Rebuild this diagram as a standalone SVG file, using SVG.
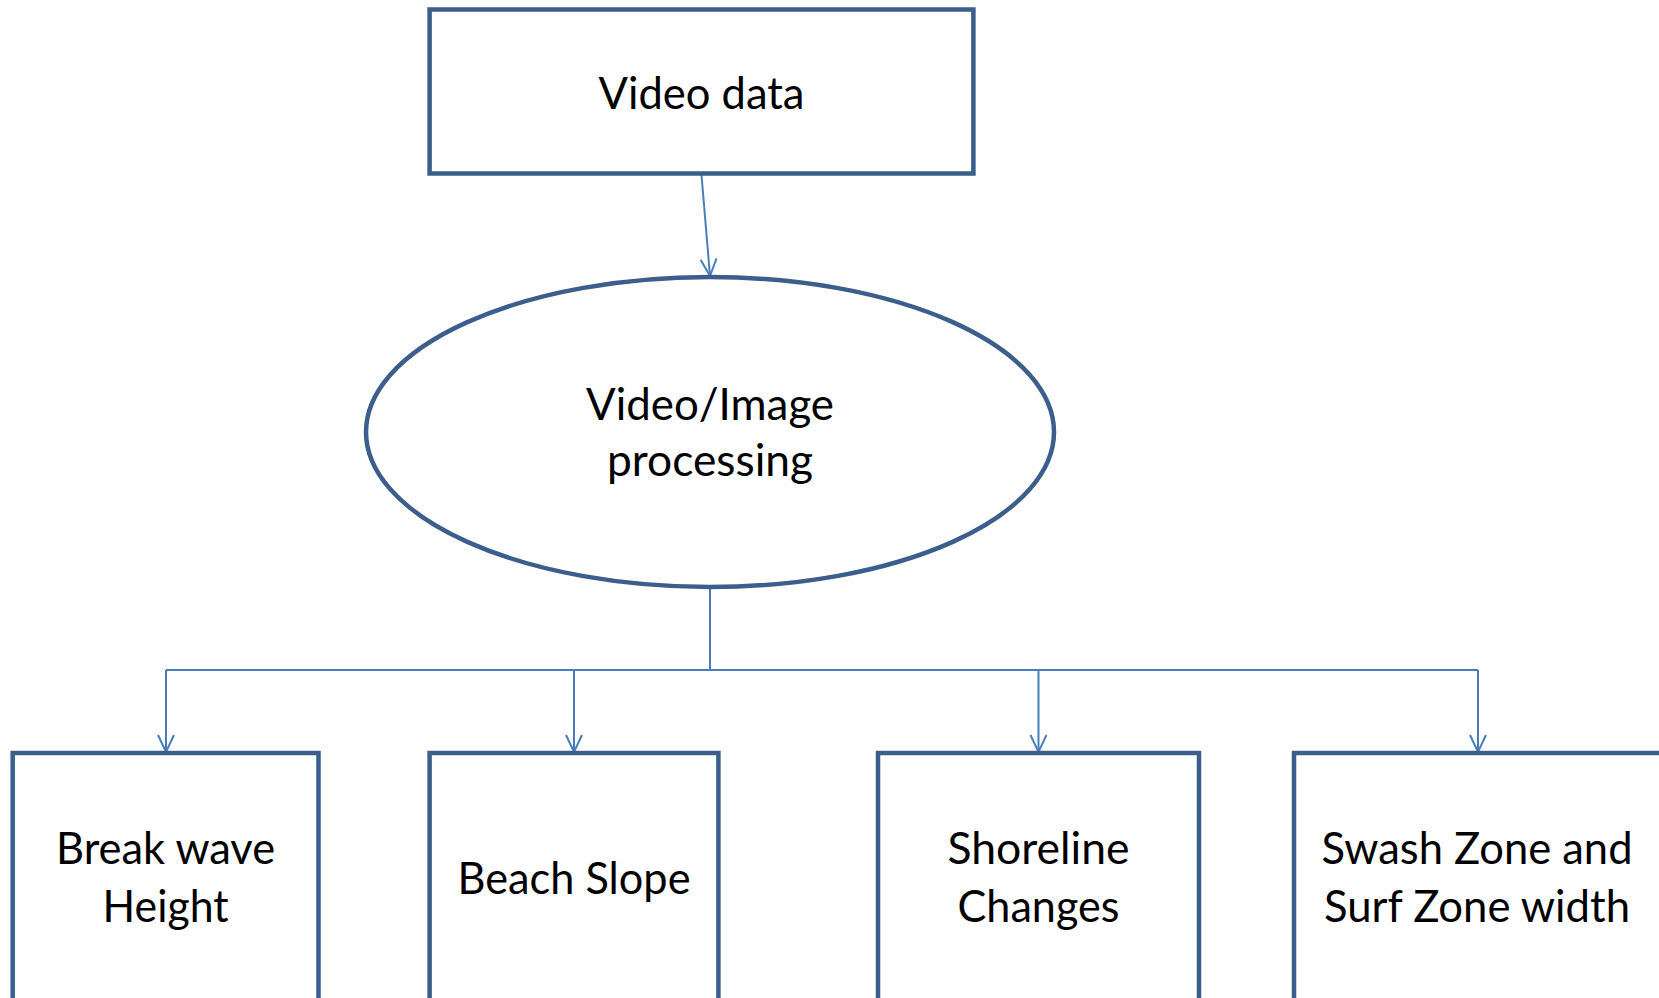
<svg xmlns="http://www.w3.org/2000/svg" width="1659" height="998" viewBox="0 0 1659 998">
<style>
.node{fill:#ffffff;stroke:#3B5E8C;stroke-width:4.5}
.lbl{font-family:Lato,"Open Sans","Liberation Sans",sans-serif;font-size:44px;fill:#000000;text-anchor:middle}
.conn{fill:none;stroke:#4A7EBB;stroke-width:2}
</style>
<defs>
<marker id="arr" markerUnits="userSpaceOnUse" markerWidth="40" markerHeight="40" refX="0" refY="0" viewBox="-20 -20 40 40" orient="auto" overflow="visible">
<path d="M-17,-8 L0,0 L-17,8" fill="none" stroke="#4A7EBB" stroke-width="2"/>
</marker>
</defs>
<rect width="1659" height="998" fill="#ffffff"/>
<g id="connectors">
<line class="conn" x1="701.5" y1="175" x2="710" y2="276" marker-end="url(#arr)"/>
<polyline class="conn" points="710,587 710,670"/>
<polyline class="conn" points="166,670 1478,670"/>
<line class="conn" x1="166" y1="670" x2="166" y2="752" marker-end="url(#arr)"/>
<line class="conn" x1="574" y1="670" x2="574" y2="752" marker-end="url(#arr)"/>
<line class="conn" x1="1038.5" y1="670" x2="1038.5" y2="752" marker-end="url(#arr)"/>
<line class="conn" x1="1478" y1="670" x2="1478" y2="752" marker-end="url(#arr)"/>
</g>
<g id="video-data">
<rect class="node" x="429.6" y="9.5" width="543.8" height="164"/>
<text class="lbl" x="701.5" y="109" textLength="206" lengthAdjust="spacingAndGlyphs">Video data</text>
</g>
<g id="processing">
<ellipse class="node" cx="710" cy="432" rx="344" ry="155"/>
<text class="lbl" x="710" y="420" textLength="248" lengthAdjust="spacingAndGlyphs">Video/Image</text>
<text class="lbl" x="710" y="476" textLength="206" lengthAdjust="spacingAndGlyphs">processing</text>
</g>
<g id="break-wave">
<rect class="node" x="12.7" y="753" width="305.8" height="300"/>
<text class="lbl" x="165.6" y="864" textLength="219" lengthAdjust="spacingAndGlyphs">Break wave</text>
<text class="lbl" x="165.6" y="922" textLength="126" lengthAdjust="spacingAndGlyphs">Height</text>
</g>
<g id="beach-slope">
<rect class="node" x="429.6" y="753" width="288.8" height="300"/>
<text class="lbl" x="574" y="894" textLength="233" lengthAdjust="spacingAndGlyphs">Beach Slope</text>
</g>
<g id="shoreline">
<rect class="node" x="878" y="753" width="321" height="300"/>
<text class="lbl" x="1038.5" y="864" textLength="182" lengthAdjust="spacingAndGlyphs">Shoreline</text>
<text class="lbl" x="1038.5" y="922" textLength="162" lengthAdjust="spacingAndGlyphs">Changes</text>
</g>
<g id="swash-surf">
<rect class="node" x="1294" y="753" width="370" height="300"/>
<text class="lbl" x="1477" y="864" textLength="311" lengthAdjust="spacingAndGlyphs">Swash Zone and</text>
<text class="lbl" x="1477" y="922" textLength="306" lengthAdjust="spacingAndGlyphs">Surf Zone width</text>
</g>
</svg>
